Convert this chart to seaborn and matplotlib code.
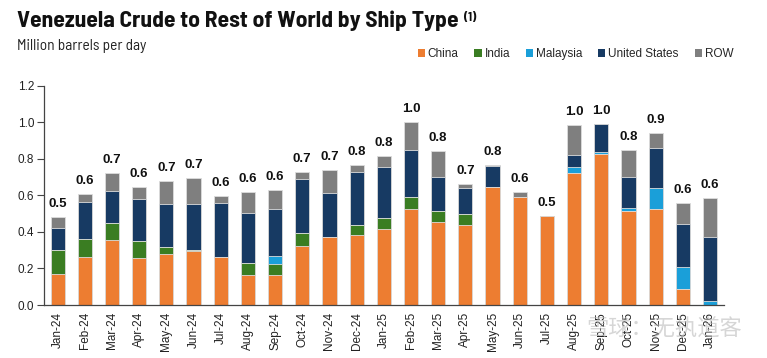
import numpy as np
import pandas as pd
import seaborn as sns
import matplotlib.pyplot as plt
from matplotlib.patches import Patch

# --- datos (millones de barriles por dia) ---
months = ['Jan-24', 'Feb-24', 'Mar-24', 'Apr-24', 'May-24', 'Jun-24', 'Jul-24', 'Aug-24',
          'Sep-24', 'Oct-24', 'Nov-24', 'Dec-24', 'Jan-25', 'Feb-25', 'Mar-25', 'Apr-25',
          'May-25', 'Jun-25', 'Jul-25', 'Aug-25', 'Sep-25', 'Oct-25', 'Nov-25', 'Dec-25', 'Jan-26']
china = [0.17, 0.265, 0.356, 0.257, 0.28, 0.296, 0.263, 0.166, 0.164, 0.323, 0.374, 0.383, 0.416,
         0.524, 0.453, 0.436, 0.646, 0.591, 0.487, 0.721, 0.827, 0.513, 0.527, 0.089, 0.0]
india = [0.13, 0.096, 0.093, 0.091, 0.036, 0.004, 0.0, 0.062, 0.062, 0.069, 0.0, 0.057, 0.06,
         0.069, 0.06, 0.059, 0.0, 0.0, 0.0, 0.0, 0.0, 0.0, 0.0, 0.0, 0.0]
malaysia = [0.0, 0.0, 0.0, 0.0, 0.0, 0.0, 0.0, 0.0, 0.044, 0.0, 0.0, 0.0, 0.0,
            0.0, 0.0, 0.0, 0.0, 0.0, 0.0, 0.033, 0.011, 0.018, 0.112, 0.121, 0.022]
united_states = [0.12, 0.203, 0.173, 0.234, 0.237, 0.253, 0.297, 0.274, 0.257, 0.296, 0.241, 0.29, 0.276,
                 0.252, 0.189, 0.147, 0.113, 0.0, 0.0, 0.064, 0.153, 0.168, 0.217, 0.235, 0.352]
row = [0.06, 0.042, 0.10, 0.065, 0.124, 0.144, 0.035, 0.117, 0.10, 0.042, 0.124, 0.038, 0.064,
       0.155, 0.141, 0.02, 0.006, 0.028, 0.0, 0.166, 0.0, 0.148, 0.086, 0.112, 0.212]

series = ['China', 'India', 'Malaysia', 'United States', 'ROW']
colors = ['#ED7D31', '#3A7D22', '#1A9FD9', '#173A63', '#7F7F7F']

df = pd.DataFrame({'Mes': months, 'China': china, 'India': india, 'Malaysia': malaysia,
                   'United States': united_states, 'ROW': row})
df['Total'] = df[series].sum(axis=1)

sns.set_style('white')
plt.rcParams['font.family'] = ['Liberation Sans', 'DejaVu Sans']
narrow = ['Barlow Semi Condensed', 'Roboto Condensed', 'Liberation Sans', 'DejaVu Sans']

W, H = 767, 358
fig = plt.figure(figsize=(W / 100, H / 100), dpi=100)
ax = fig.add_axes([0.0574, 0.148, 0.886, 0.613])

# apilado: se dibujan las sumas acumuladas de arriba hacia abajo
for i in range(len(series) - 1, -1, -1):
    cum = df[series[:i + 1]].sum(axis=1)
    sns.barplot(x=df['Mes'], y=cum, color=colors[i], width=0.52, saturation=1,
                edgecolor='#dcdcdc', linewidth=0.6, ax=ax)

# etiquetas de total
for k, tot in enumerate(df['Total']):
    ax.annotate(f'{tot:.1f}', (k, tot), xytext=(0, 5), textcoords='offset points',
                ha='center', va='bottom', fontsize=9.5, fontweight='bold', color='#111111')

ax.set_ylim(0, 1.2)
ax.set_yticks(np.arange(0, 1.21, 0.2))
ax.set_yticklabels([f'{v:.1f}' for v in np.arange(0, 1.21, 0.2)], fontsize=8.5, color='#222222')
ax.set_xlim(-0.5, len(months) - 0.5)
ax.set_xticks(range(len(months)))
ax.set_xticklabels(months, rotation=90, fontsize=8.5, color='#222222')
ax.set_xticks(np.arange(-0.5, len(months), 1), minor=True)
ax.tick_params(axis='x', which='major', length=0, pad=5)
ax.tick_params(axis='x', which='minor', length=4, width=0.8, color='#444444', direction='out')
ax.tick_params(axis='y', length=5, width=0.8, color='#444444', direction='out', left=True, pad=2)
ax.set_xlabel('')
ax.set_ylabel('')
for s in ['top', 'right']:
    ax.spines[s].set_visible(False)
for s in ['left', 'bottom']:
    ax.spines[s].set_color('#444444')
    ax.spines[s].set_linewidth(0.9)

# titulo y subtitulo: se ajusta el tamaño para que ocupen el mismo ancho que el original
x0 = 17 / W
t = fig.text(x0, 1 - 27 / H, 'Venezuela Crude to Rest of World by Ship Type', fontsize=16,
             fontweight='bold', family=narrow, va='baseline', ha='left', color='#111111')
sub = fig.text(x0, 1 - 50 / H, 'Million barrels per day', fontsize=10, family=narrow,
               va='baseline', ha='left', color='#222222')
r = fig.canvas.get_renderer()
t.set_fontsize(16 * 440 / t.get_window_extent(r).width)
sub.set_fontsize(10 * 130 / sub.get_window_extent(r).width)
bb = t.get_window_extent(r).transformed(fig.transFigure.inverted())
fig.text(bb.x1 + 5 / W, 1 - 21 / H, '(1)', fontsize=9, fontweight='bold', family=narrow,
         va='baseline', ha='left', color='#111111')

handles = [Patch(facecolor=c, edgecolor='none') for c in colors]
fig.legend(handles, series, loc='center left', bbox_to_anchor=(407 / W, 1 - 54 / H), ncol=5,
           frameon=False, handlelength=0.6, handleheight=0.6,
           handletextpad=0.25, columnspacing=1.35,
           prop={'family': ['Liberation Sans', 'DejaVu Sans'], 'size': 8.5})

# marca de agua
fig.text(0.765, 0.084, '雪球：无执道客', fontsize=16, color='#bbbbbb', alpha=0.6,
         family=['Noto Sans CJK SC', 'DejaVu Sans'], ha='left', va='center')

fig.savefig('out.png', dpi=100)
